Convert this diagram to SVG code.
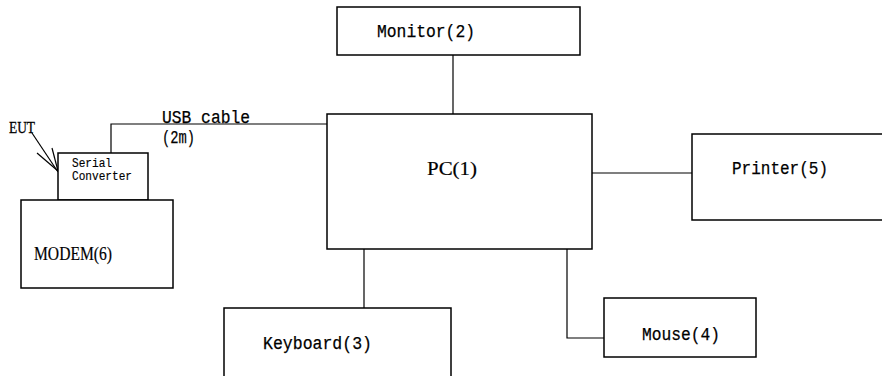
<svg xmlns="http://www.w3.org/2000/svg" width="882" height="376" viewBox="0 0 882 376">
<style>
.box{fill:#fff;stroke:#000;stroke-width:1.5}
.ln{fill:none;stroke:#000;stroke-width:1.2}
.t{font-family:"Liberation Mono",monospace;font-size:19px;fill:#000;stroke:#000;stroke-width:0.25}
.r{font-family:"Liberation Serif",serif;font-size:19px;fill:#000;stroke:#000;stroke-width:0.2}
.s{font-family:"Liberation Mono",monospace;font-size:12px;fill:#000;stroke:#000;stroke-width:0.15}
.e{font-family:"Liberation Serif",serif;font-size:16px;fill:#000;stroke:#000;stroke-width:0.3}
</style>
<rect width="882" height="376" fill="#fff"/>
<g id="connectors">
<line class="ln" x1="453" y1="55" x2="453" y2="114"/>
<line class="ln" x1="592" y1="173" x2="692" y2="173"/>
<line class="ln" x1="364" y1="249" x2="364" y2="308"/>
<polyline class="ln" points="567,249 567,338 604,338"/>
<polyline class="ln" points="111,153 111,124 327,124"/>
<line class="ln" x1="32" y1="133" x2="58" y2="172"/>
<line class="ln" x1="37" y1="153" x2="58" y2="171"/>
<line class="ln" x1="52" y1="148" x2="58" y2="171"/>
<text class="t" x="162" y="123" textLength="88" lengthAdjust="spacingAndGlyphs">USB cable</text>
<text class="t" x="162" y="143" textLength="33" lengthAdjust="spacingAndGlyphs">(2m)</text>
<text class="e" x="9" y="133" textLength="26" lengthAdjust="spacingAndGlyphs">EUT</text>
</g>
<g id="monitor">
<rect class="box" x="337" y="7" width="243" height="48"/>
<text class="t" x="377" y="37" textLength="98" lengthAdjust="spacingAndGlyphs">Monitor(2)</text>
</g>
<g id="pc">
<rect class="box" x="327" y="114" width="265" height="135"/>
<text class="r" x="427" y="175" textLength="50" lengthAdjust="spacingAndGlyphs">PC(1)</text>
</g>
<g id="printer">
<path class="box" d="M884,134 H692 V220 H884"/>
<text class="t" x="732" y="174" textLength="96" lengthAdjust="spacingAndGlyphs">Printer(5)</text>
</g>
<g id="mouse">
<rect class="box" x="604" y="298" width="152" height="59"/>
<text class="t" x="642" y="340" textLength="78" lengthAdjust="spacingAndGlyphs">Mouse(4)</text>
</g>
<g id="keyboard">
<path class="box" d="M224,378 V308 H451 V378"/>
<text class="t" x="263" y="349" textLength="109" lengthAdjust="spacingAndGlyphs">Keyboard(3)</text>
</g>
<g id="serial-converter">
<rect class="box" x="58" y="153" width="90" height="47"/>
<text class="s" x="72" y="167" textLength="40" lengthAdjust="spacingAndGlyphs">Serial</text>
<text class="s" x="72" y="180" textLength="60" lengthAdjust="spacingAndGlyphs">Converter</text>
</g>
<g id="modem">
<rect class="box" x="21" y="200" width="152" height="88"/>
<text class="r" x="34" y="260" textLength="78" lengthAdjust="spacingAndGlyphs">MODEM(6)</text>
</g>
</svg>
